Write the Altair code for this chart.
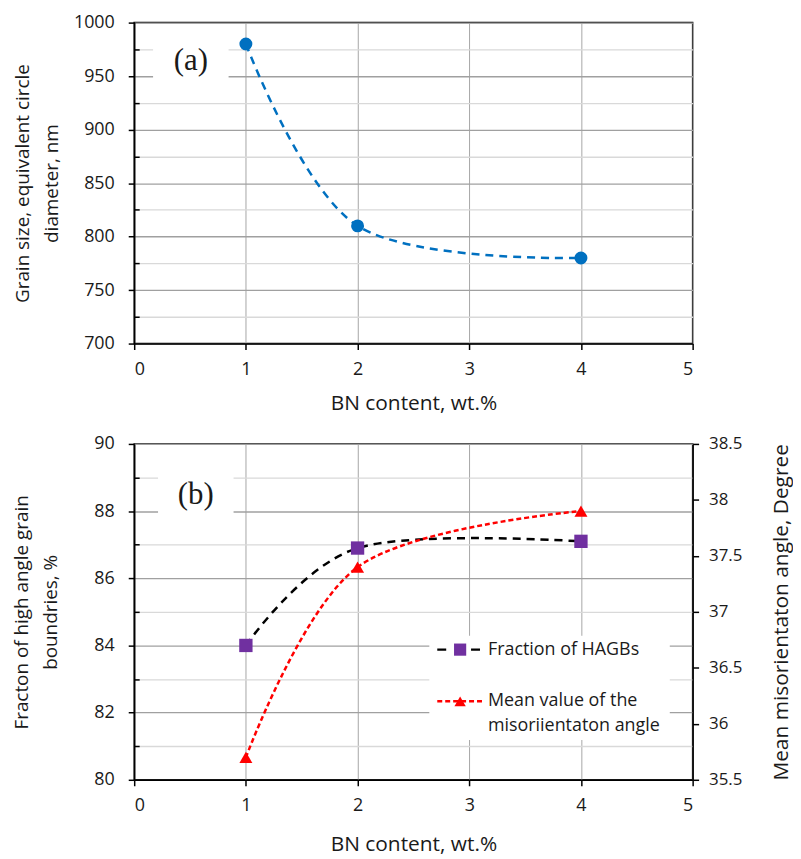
import altair as alt
import pandas as pd

# ---- data ----
bn_content = [1, 2, 4]
grain_size = [980, 810, 780]
hagb_fraction = [84.0, 86.9, 87.1]
mean_angle = [35.7, 37.4, 37.9]

x_ticks = [0, 1, 2, 3, 4, 5]
top_y_ticks = [700, 725, 750, 775, 800, 825, 850, 875, 900, 925, 950, 975, 1000]
left_y_ticks = [80, 81, 82, 83, 84, 85, 86, 87, 88, 89, 90]
right_y_ticks = [35.5, 36.0, 36.5, 37.0, 37.5, 38.0, 38.5]

legend_labels = ["Fraction of HAGBs", "Mean value of the", "misoriientaton angle"]

df = pd.DataFrame({"bn": bn_content, "grain": grain_size,
                   "hagb": hagb_fraction, "angle": mean_angle})
one = alt.Data(values=[{"k": 0}])

W = 562
H1 = 323
H2 = 338
FONT = "Open Sans"
TXT = "#1a1a1a"
LBL = 18
TTL = 19


def x_enc(title_pad=14):
    return alt.X(
        "bn:Q",
        scale=alt.Scale(domain=[0, 5], nice=False, zero=False),
        axis=alt.Axis(values=x_ticks, format="d", title="BN content, wt.%",
                      grid=True, gridColor="#a6a6a6", gridWidth=1,
                      domainColor="black", domainWidth=1.5,
                      tickColor="black", tickWidth=1.5, tickSize=6,
                      labelFontSize=LBL, labelPadding=11, labelColor=TXT,
                      titleFontSize=21, titlePadding=title_pad, titleFontWeight="normal",
                      titleColor=TXT),
    )


def left_axis(values, step, title, title_pad):
    test = f"abs(datum.value % {step}) < 1e-6"
    return alt.Axis(
        values=values, title=title, grid=True, format="d",
        gridColor={"condition": {"test": test, "value": "#a0a0a0"}, "value": "#d9d9d9"},
        gridWidth=1.3,
        labelExpr=f"{test} ? datum.label : ''",
        tickSize={"condition": {"test": test, "value": 6}, "expr": "-5"},
        tickColor="black", tickWidth=1.5,
        domainColor="black", domainWidth=1.5,
        labelFontSize=LBL, labelPadding=14, labelColor=TXT,
        titleFontSize=TTL, titleFontWeight="normal", titleColor=TXT,
        titlePadding=title_pad, titleLineHeight=29,
    )


# ---------------- panel (a) ----------------
top_y = alt.Y("grain:Q", scale=alt.Scale(domain=[700, 1000], nice=False, zero=False),
              axis=left_axis(top_y_ticks, 50,
                             ["Grain size, equivalent circle", "diameter, nm"], 12))

a_box = alt.Chart(one).mark_rect(color="white").encode(
    x=alt.value(19), x2=alt.value(95), y=alt.value(10), y2=alt.value(68))
a_text = alt.Chart(one).mark_text(font="Liberation Serif", fontSize=31, color=TXT,
                                  baseline="middle").encode(
    x=alt.value(57), y=alt.value(39), text=alt.value("(a)"))
a_line = alt.Chart(df).mark_line(interpolate="cardinal", color="#0070C0",
                                 strokeWidth=2.5, strokeDash=[8, 6]).encode(
    x=x_enc(), y=top_y)
a_pts = alt.Chart(df).mark_point(filled=True, shape="circle", size=170,
                                 color="#0070C0", opacity=1).encode(
    x=x_enc(), y=top_y)

panel_a = alt.layer(a_box, a_text, a_line, a_pts).properties(width=W, height=H1)

# ---------------- panel (b) ----------------
left_y = alt.Y("hagb:Q", scale=alt.Scale(domain=[80, 90], nice=False, zero=False),
               axis=left_axis(left_y_ticks, 2,
                              ["Fracton of high angle grain", "boundries, %"], 34))
right_y = alt.Y("angle:Q", scale=alt.Scale(domain=[35.5, 38.5], nice=False, zero=False),
                axis=alt.Axis(orient="right", values=right_y_ticks, format=".1~f",
                              title="Mean misorientaton angle, Degree", titleAngle=270,
                              grid=False, tickColor="black", tickWidth=1.5, tickSize=6,
                              domainColor="black", domainWidth=1.5,
                              labelFontSize=17, labelPadding=10, labelColor=TXT,
                              titleFontSize=21, titleFontWeight="normal",
                              titleColor=TXT, titlePadding=50))

bx = x_enc(19)
b_line = alt.Chart(df).mark_line(interpolate="cardinal", color="black",
                                 strokeWidth=2.5, strokeDash=[8, 6]).encode(x=bx, y=left_y)
b_sq = alt.Chart(df).mark_point(filled=True, shape="square", size=180,
                                color="#7030A0", opacity=1).encode(x=bx, y=left_y)
r_line = alt.Chart(df).mark_line(interpolate="cardinal", color="#FF0000",
                                 strokeWidth=2.5, strokeDash=[5, 3]).encode(x=bx, y=right_y)
r_tri = alt.Chart(df).mark_point(filled=True, shape="triangle-up", size=170,
                                 color="#FF0000", opacity=1).encode(x=bx, y=right_y)

left_layer = alt.layer(b_line, b_sq)
right_layer = alt.layer(r_line, r_tri)

b_box = alt.Chart(one).mark_rect(color="white").encode(
    x=alt.value(24), x2=alt.value(100), y=alt.value(16), y2=alt.value(84))
b_text = alt.Chart(one).mark_text(font="Liberation Serif", fontSize=31, color=TXT,
                                  baseline="middle").encode(
    x=alt.value(62), y=alt.value(51), text=alt.value("(b)"))

leg_box = alt.Chart(one).mark_rect(color="white").encode(
    x=alt.value(297), x2=alt.value(539), y=alt.value(193), y2=alt.value(298))
leg_dash1 = alt.Chart(one).mark_rule(color="black", strokeWidth=2.5,
                                     strokeDash=[9, 25]).encode(
    x=alt.value(305), x2=alt.value(350), y=alt.value(207))
leg_sq = alt.Chart(one).mark_point(filled=True, shape="square", size=150,
                                   color="#7030A0", opacity=1).encode(
    x=alt.value(328), y=alt.value(207))
leg_dash2 = alt.Chart(one).mark_rule(color="#FF0000", strokeWidth=2.5,
                                     strokeDash=[5, 3]).encode(
    x=alt.value(305), x2=alt.value(350), y=alt.value(259))
leg_tri = alt.Chart(one).mark_point(filled=True, shape="triangle-up", size=130,
                                    color="#FF0000", opacity=1).encode(
    x=alt.value(328), y=alt.value(259))
leg_t1 = alt.Chart(one).mark_text(align="left", baseline="middle", fontSize=18,
                                  color=TXT, font=FONT).encode(
    x=alt.value(356), y=alt.value(207), text=alt.value(legend_labels[0]))
leg_t2 = alt.Chart(one).mark_text(align="left", baseline="middle", fontSize=18,
                                  color=TXT, font=FONT).encode(
    x=alt.value(356), y=alt.value(259), text=alt.value(legend_labels[1]))
leg_t3 = alt.Chart(one).mark_text(align="left", baseline="middle", fontSize=18,
                                  color=TXT, font=FONT).encode(
    x=alt.value(356), y=alt.value(284), text=alt.value(legend_labels[2]))

panel_b = alt.layer(
    b_box, leg_box, b_text, left_layer, right_layer,
    leg_dash1, leg_sq, leg_dash2, leg_tri, leg_t1, leg_t2, leg_t3,
).resolve_scale(y="independent").properties(width=W, height=H2)

chart = alt.vconcat(panel_a, panel_b, spacing=20).properties(
    padding={"left": 3, "top": 2, "right": 0, "bottom": 0}
).configure(font=FONT).configure_view(stroke="black", strokeWidth=1.5)

chart.save("out.html", embed_options={"renderer": "svg", "actions": False})
